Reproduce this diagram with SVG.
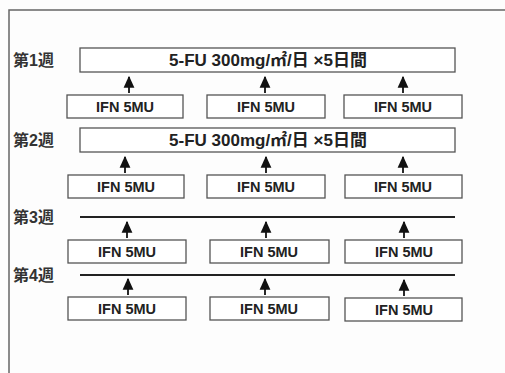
<svg xmlns="http://www.w3.org/2000/svg" width="505" height="373" viewBox="0 0 505 373">
<style>
.box{fill:#fff;stroke:#555;stroke-width:1.3}
.t{font-family:"Liberation Sans","Noto Sans CJK JP",sans-serif;font-weight:bold;font-size:14.5px;fill:#222;text-anchor:middle}
.fu{font-size:17px}
.wk{font-family:"Liberation Sans","Noto Sans CJK JP",sans-serif;font-weight:bold;font-size:16px;fill:#333}
.line{stroke:#222;stroke-width:1.8}
.arr{stroke:#111;stroke-width:1.8;fill:none}
</style>
<defs>
<marker id="ah" viewBox="0 0 10 10" refX="9" refY="5" markerWidth="12" markerHeight="12" markerUnits="userSpaceOnUse" orient="auto">
<path d="M0,0.5 L10,5 L0,9.5 Z" fill="#111"/>
</marker>
</defs>
<rect width="505" height="373" fill="#fdfdfd"/>
<path d="M9,373 V10 H505" fill="none" stroke="#666" stroke-width="1.5"/>
<g id="week1">
<text class="wk" x="13" y="66">第1週</text>
<rect class="box" x="80" y="48" width="375" height="24"/>
<text class="t fu" x="268" y="66">5-FU 300mg/㎡/日 ×5日間</text>
</g>
<g id="week2">
<text class="wk" x="13" y="146">第2週</text>
<rect class="box" x="80" y="128" width="375" height="24"/>
<text class="t fu" x="268" y="146">5-FU 300mg/㎡/日 ×5日間</text>
</g>
<g id="week3">
<text class="wk" x="13" y="223">第3週</text>
<line class="line" x1="80" y1="217" x2="455" y2="217"/>
</g>
<g id="week4">
<text class="wk" x="13" y="281">第4週</text>
<line class="line" x1="80" y1="275" x2="455" y2="275"/>
</g>
<g id="ifn1a"><rect class="box" x="67" y="95" width="116" height="23"/><text class="t" x="125" y="112">IFN 5MU</text></g>
<g id="ifn1b"><rect class="box" x="207" y="95" width="118" height="23"/><text class="t" x="266" y="112">IFN 5MU</text></g>
<g id="ifn1c"><rect class="box" x="344" y="95" width="118" height="23"/><text class="t" x="403" y="112">IFN 5MU</text></g>
<g id="ifn2a"><rect class="box" x="68" y="175" width="116" height="23"/><text class="t" x="126" y="192">IFN 5MU</text></g>
<g id="ifn2b"><rect class="box" x="207" y="175" width="118" height="23"/><text class="t" x="266" y="192">IFN 5MU</text></g>
<g id="ifn2c"><rect class="box" x="345" y="175" width="117" height="23"/><text class="t" x="403" y="192">IFN 5MU</text></g>
<g id="ifn3a"><rect class="box" x="68" y="240" width="118" height="23"/><text class="t" x="127" y="257">IFN 5MU</text></g>
<g id="ifn3b"><rect class="box" x="210" y="240" width="119" height="23"/><text class="t" x="269" y="257">IFN 5MU</text></g>
<g id="ifn3c"><rect class="box" x="345" y="240" width="117" height="23"/><text class="t" x="404" y="257">IFN 5MU</text></g>
<g id="ifn4a"><rect class="box" x="68" y="297" width="118" height="23"/><text class="t" x="127" y="314">IFN 5MU</text></g>
<g id="ifn4b"><rect class="box" x="210" y="297" width="119" height="23"/><text class="t" x="269" y="314">IFN 5MU</text></g>
<g id="ifn4c"><rect class="box" x="345" y="298" width="117" height="23"/><text class="t" x="404" y="315">IFN 5MU</text></g>
<g id="connectors">
<line class="arr" x1="129" y1="93" x2="129" y2="77" marker-end="url(#ah)"/>
<line class="arr" x1="265" y1="93" x2="265" y2="77" marker-end="url(#ah)"/>
<line class="arr" x1="403" y1="93" x2="403" y2="77" marker-end="url(#ah)"/>
<line class="arr" x1="125" y1="173" x2="125" y2="157" marker-end="url(#ah)"/>
<line class="arr" x1="266" y1="173" x2="266" y2="157" marker-end="url(#ah)"/>
<line class="arr" x1="403" y1="173" x2="403" y2="157" marker-end="url(#ah)"/>
<line class="arr" x1="127" y1="238" x2="127" y2="222" marker-end="url(#ah)"/>
<line class="arr" x1="266" y1="238" x2="266" y2="222" marker-end="url(#ah)"/>
<line class="arr" x1="404" y1="238" x2="404" y2="222" marker-end="url(#ah)"/>
<line class="arr" x1="128" y1="295" x2="128" y2="279" marker-end="url(#ah)"/>
<line class="arr" x1="265" y1="295" x2="265" y2="279" marker-end="url(#ah)"/>
<line class="arr" x1="404" y1="296" x2="404" y2="280" marker-end="url(#ah)"/>
</g>
</svg>
